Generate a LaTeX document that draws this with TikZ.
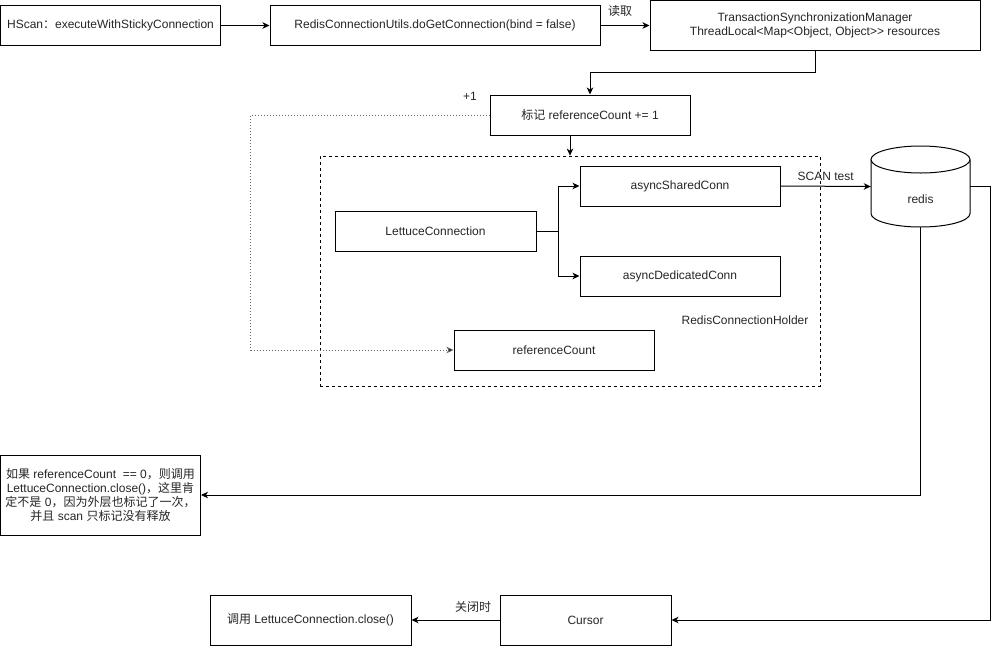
\documentclass[tikz,border=0pt]{standalone}
\usepackage{fontspec}
\setmainfont{Liberation Sans}
\newfontfamily\cjk{Noto Sans CJK SC}
\newcommand\zh[1]{{\cjk #1}}
\usetikzlibrary{arrows.meta}
\begin{document}
\begin{tikzpicture}[x=1pt,y=-1pt,
  every node/.style={font=\fontsize{12pt}{14pt}\selectfont, text=black!85},
  box/.style={draw=black, line width=1pt, fill=white, inner sep=1pt, align=center},
  arr/.style={line width=1pt, -{Stealth[length=7pt,width=6.5pt,inset=2pt]}},
  dotline/.style={line width=0.8pt, draw=black!60, dash pattern=on 1pt off 2pt, -{Stealth[length=7pt,width=6.5pt,inset=2pt,fill=black]}},
  lbl/.style={inner sep=0pt}]
\useasboundingbox (0,0) rectangle (999,646);

% container
\node[draw=black, line width=0.8pt, dash pattern=on 3pt off 3pt, minimum width=500pt, minimum height=230pt, inner sep=0pt] (holder) at (570,271) {};
\node[lbl] (holderlbl) at (745,320) {RedisConnectionHolder};

% top row
\node[box, minimum width=220pt, minimum height=40pt] (hscan) at (110.5,25.5) {HScan\zh{：}executeWithStickyConnection};
\node[box, minimum width=330pt, minimum height=40pt] (rcu) at (435,25.5) {RedisConnectionUtils.doGetConnection(bind = false)};
\node[box, minimum width=330pt, minimum height=50pt] (tsm) at (815,25.5) {TransactionSynchronizationManager\\ThreadLocal<Map<Object, Object>{}> resources};

\node[box, minimum width=200pt, minimum height=40pt] (mark) at (590,115) {\zh{标记} referenceCount += 1};
\node[lbl] (plus) at (470,96) {+1};

\node[box, minimum width=201pt, minimum height=40pt] (lettuce) at (435.5,231) {LettuceConnection};
\node[box, minimum width=200pt, minimum height=40pt] (shared) at (680,186) {asyncSharedConn};
\node[box, minimum width=200pt, minimum height=40pt] (dedicated) at (680,276) {asyncDedicatedConn};
\node[box, minimum width=200pt, minimum height=40pt] (refcount) at (554,350) {referenceCount};

% redis cylinder
\fill[white] (871,159.5) rectangle (970,213.5);
\draw[line width=1pt, fill=white] (871,159.5) -- (871,213.5) .. controls (871,220.96) and (893.16,227) .. (920.5,227) .. controls (947.84,227) and (970,220.96) .. (970,213.5) -- (970,159.5);
\draw[line width=1pt, fill=white] (920.5,159.5) ellipse [x radius=49.5pt, y radius=13.5pt];
\node[minimum width=99pt, minimum height=81pt, inner sep=0pt, label={[lbl, yshift=-13pt]center:redis}] (redis) at (920.5,186.5) {};

\node[box, minimum width=200pt, minimum height=80pt] (note) at (100.5,495) {\zh{如果} referenceCount~~== 0\zh{，则调用}\\LettuceConnection.close()\zh{，这里肯}\\\zh{定不是} 0\zh{，因为外层也标记了一次，}\\\zh{并且} scan \zh{只标记没有释放}};

\node[box, minimum width=171pt, minimum height=50pt] (cursor) at (585.5,620) {Cursor};
\node[box, minimum width=201pt, minimum height=50pt] (call) at (310.5,620) {\zh{调用} LettuceConnection.close()};

% connectors
\draw[arr] (hscan) -- (rcu);
\draw[arr] (rcu) -- node[lbl, above=8pt, pos=0.4] (readlbl) {\zh{读取}} (tsm);
\draw[arr] (tsm.south) -- ++(0,21.5) -| (mark.north);
\draw[arr] ([xshift=-20pt]mark.south) -- (holder.north);
\draw[dotline] (mark.west) -- ++(-239,0) |- (refcount.west);
\draw[arr] (lettuce.east) -- ++(21.5,0) |- (shared.west);
\draw[arr] (lettuce.east) -- ++(21.5,0) |- (dedicated.west);
\draw[arr] (shared.east) -- node[lbl, above=5pt] (scanlbl) {SCAN test} (redis.west);
\draw[arr] (redis.south) |- (note.east);
\draw[arr] (redis.east) -- ++(20,0) |- (cursor.east);
\draw[arr] (cursor.west) -- node[lbl, above=7pt, pos=0.3] (closelbl) {\zh{关闭时}} (call.east);
\end{tikzpicture}
\end{document}
